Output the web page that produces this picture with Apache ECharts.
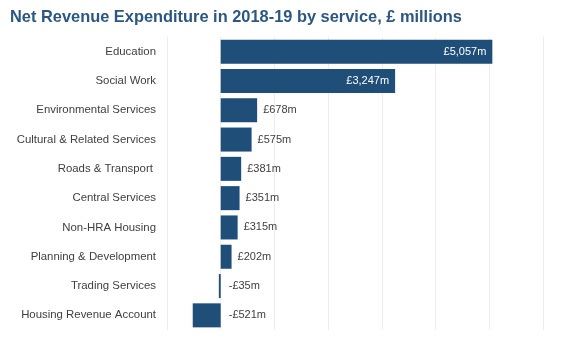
<!DOCTYPE html>
<html><head><meta charset="utf-8">
<script src="https://cdn.jsdelivr.net/npm/echarts@6/dist/echarts.min.js"></script>
<style>html,body{margin:0;padding:0;background:#fff}#c{width:565px;height:342px}</style>
</head><body><div id="c"></div>
<script>
var categories = ["Education","Social Work","Environmental Services","Cultural & Related Services","Roads & Transport ","Central Services","Non-HRA Housing","Planning & Development","Trading Services","Housing Revenue Account"];
var values = [5057, 3247, 678, 575, 381, 351, 315, 202, -35, -521];
var insideLabelMin = 3000;

function fmt(v){ var s = Math.abs(v).toLocaleString('en-GB'); return (v<0?'-':'') + '£' + s + 'm'; }

var chart = echarts.init(document.getElementById('c'), null, {renderer:'canvas'});
var data = values.map(function(v){
  var lab;
  if (v >= insideLabelMin) lab = {position:'insideRight', color:'#ffffff', distance:6};
  else if (v < 0) lab = {position:'right', color:'#404040', distance:8};
  else lab = {position:'right', color:'#404040', distance:6};
  return {value:v, label:lab};
});
chart.setOption({
  animation:false,
  title:{text:'Net Revenue Expenditure in 2018-19 by service, £ millions', left:5, top:4,
    textStyle:{fontFamily:'Liberation Sans, Arial, sans-serif', fontSize:16.4, fontWeight:'bold', color:'#2b5783'}},
  grid:{left:167, right:22, top:37, bottom:12, containLabel:false},
  xAxis:{type:'value', min:-1000, max:6000, interval:1000,
    axisLabel:{show:false}, axisLine:{show:false}, axisTick:{show:false},
    splitLine:{show:true, lineStyle:{color:'#ececf2', width:1}}},
  yAxis:{type:'category', data:categories, inverse:true,
    axisLine:{show:false}, axisTick:{show:false},
    axisLabel:{margin:11, fontFamily:'Liberation Sans, Arial, sans-serif', fontSize:11.4, color:'#404040'}},
  series:[{type:'bar', data:data, barCategoryGap:'18%',
    itemStyle:{color:'#1f4e79'},
    label:{show:true, fontFamily:'Liberation Sans, Arial, sans-serif', fontSize:11,
      formatter:function(p){return fmt(p.value);}}}]
});
</script></body></html>
